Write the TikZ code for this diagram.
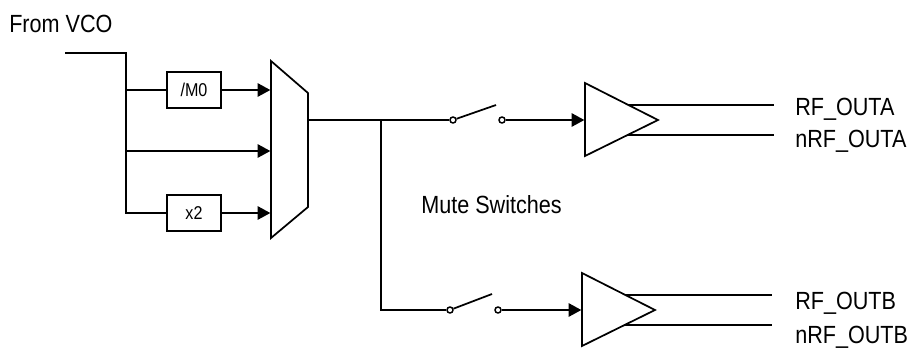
\documentclass[tikz,border=0pt]{standalone}
\usepackage{graphicx}
\usepackage{fontspec}
\setmainfont{Liberation Sans}
\usetikzlibrary{arrows.meta}
\newcommand{\tall}[1]{\scalebox{1}[1.15]{#1}}
\tikzset{
    wire/.style={line width=1.3pt},
    feed/.style={wire, -{Triangle[length=9.5pt,width=10pt]}, shorten >=0.5pt},
    blockbox/.style={draw, line width=1.3pt, minimum width=40.5pt, minimum height=27pt, inner sep=0, font=\fontsize{12.1}{12.1}\selectfont},
    contact/.style={draw, fill=white, circle, line width=1.1pt, inner sep=0, minimum size=4.5pt},
    caption/.style={inner sep=0, anchor=base west, font=\fontsize{16.2}{16.2}\selectfont},
}
\begin{document}
\begin{tikzpicture}[x=0.75pt, y=-0.75pt]
    \useasboundingbox (0, 0) rectangle (908, 347);
    % input side
    \node[caption] (vco) at (9, 32.5) {\tall{From VCO}};
    \coordinate (in) at (65, 53);
    \coordinate (bend) at (126, 53);
    \coordinate (tapa) at (126, 90);
    \coordinate (tapb) at (126, 151);
    \coordinate (tapc) at (126, 213);
    \node[blockbox] (div) at (194, 90) {\tall{/M0}};
    \node[blockbox] (dbl) at (194, 213) {\tall{x2}};
    % mux
    \coordinate (mtl) at (271, 61);
    \coordinate (mtr) at (308, 93);
    \coordinate (mbr) at (308, 207);
    \coordinate (mbl) at (271, 238);
    \coordinate (mina) at (271, 90);
    \coordinate (minb) at (271, 151);
    \coordinate (minc) at (271, 213);
    \coordinate (mout) at (308, 120);
    \draw[wire, line join=miter] (mtl) -- (mtr) -- (mbr) -- (mbl) -- cycle;
    \draw[wire] (in) -- (bend) -- (tapc) -- (dbl);
    \draw[wire] (tapa) -- (div);
    \draw[feed] (div) -- (mina);
    \draw[feed] (tapb) -- (minb);
    \draw[feed] (dbl) -- (minc);
    % switches
    \node[contact] (swal) at (453, 120) {};
    \node[contact] (swar) at (502, 120) {};
    \node[contact] (swbl) at (450, 310) {};
    \node[contact] (swbr) at (498, 310) {};
    \coordinate (blada) at (496, 105);
    \coordinate (bladb) at (492, 294);
    \coordinate (split) at (381, 120);
    \coordinate (splitb) at (381, 310);
    \draw[wire] (mout) -- (swal);
    \draw[wire] (split) -- (splitb) -- (swbl);
    \draw[wire] (swal) -- (blada);
    \draw[wire] (swbl) -- (bladb);
    % drivers
    \coordinate (ata) at (585, 83);
    \coordinate (atb) at (585, 156);
    \coordinate (atc) at (658, 120);
    \coordinate (ain) at (585, 120);
    \coordinate (bta) at (582, 273);
    \coordinate (btb) at (582, 346);
    \coordinate (btc) at (655, 310);
    \coordinate (bin) at (582, 310);
    \draw[wire, line join=miter] (ata) -- (atb) -- (atc) -- cycle;
    \draw[wire, line join=miter] (bta) -- (btb) -- (btc) -- cycle;
    \draw[feed] (swar) -- (ain);
    \draw[feed] (swbr) -- (bin);
    % outputs
    \node[caption] (outa) at (795, 115) {\tall{RF\_OUTA}};
    \node[caption] (nouta) at (795, 147) {\tall{nRF\_OUTA}};
    \node[caption] (outb) at (795, 309) {\tall{RF\_OUTB}};
    \node[caption] (noutb) at (795, 343) {\tall{nRF\_OUTB}};
    \coordinate (aoa) at (628, 105);
    \coordinate (aob) at (628, 135);
    \coordinate (boa) at (625, 295);
    \coordinate (bob) at (625, 325);
    \coordinate (aea) at (774, 105);
    \coordinate (aeb) at (774, 135);
    \coordinate (bea) at (772, 295);
    \coordinate (beb) at (772, 325);
    \draw[wire] (aoa) -- (aea);
    \draw[wire] (aob) -- (aeb);
    \draw[wire] (boa) -- (bea);
    \draw[wire] (bob) -- (beb);
    \node[caption] (mute) at (421, 213) {\tall{Mute Switches}};
\end{tikzpicture}
\end{document}
